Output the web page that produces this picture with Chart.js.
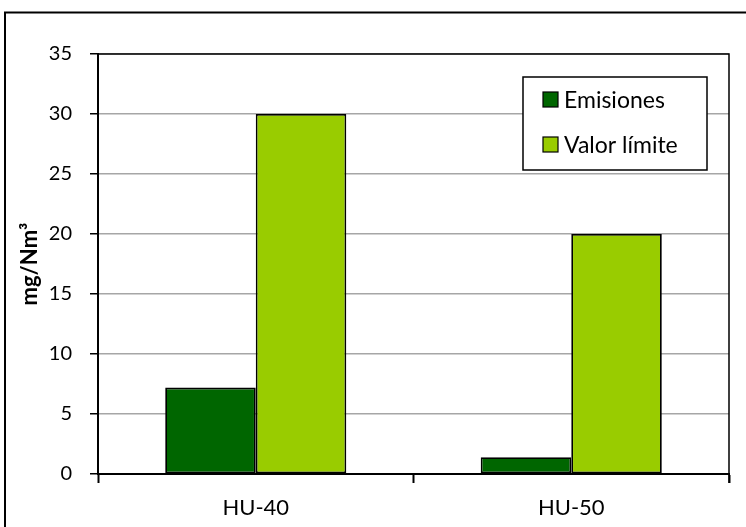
<!DOCTYPE html>
<html>
<head>
<meta charset="utf-8">
<script src="https://cdn.jsdelivr.net/npm/chart.js@4/dist/chart.umd.min.js"></script>
<style>
  html, body { margin: 0; padding: 0; background: #fff; }
  #wrap { width: 746px; height: 527px; }
</style>
</head>
<body>
<div id="wrap"><canvas id="chart" width="746" height="527"></canvas></div>
<script>
const categories = ['HU-40', 'HU-50'];
const emisiones = [7.2, 1.4];
const valorLimite = [30, 20];
const yTicks = [0, 5, 10, 15, 20, 25, 30, 35];

const FONT = 'Lato, "Liberation Sans", sans-serif';

// marco exterior, borde del area de trazado y leyenda
const framePlugin = {
  id: 'frame',
  beforeDraw(chart) {
    const ctx = chart.ctx;
    ctx.save();
    ctx.fillStyle = '#fff';
    ctx.fillRect(0, 0, chart.width, chart.height);
    ctx.strokeStyle = '#000';
    ctx.lineWidth = 2;
    ctx.strokeRect(5, 12.5, chart.width + 20, chart.height + 20);
    ctx.restore();
  },
  afterDatasetsDraw(chart) {
    const ctx = chart.ctx;
    const a = chart.chartArea;
    ctx.save();
    ctx.strokeStyle = '#000';
    ctx.lineWidth = 1.5;
    ctx.beginPath();
    ctx.moveTo(a.left, a.top);
    ctx.lineTo(a.right, a.top);
    ctx.lineTo(a.right, a.bottom + 9);
    ctx.stroke();

    // leyenda
    const bx = 523, by = 77, bw = 184, bh = 93;
    ctx.fillStyle = '#fff';
    ctx.fillRect(bx, by, bw, bh);
    ctx.lineWidth = 1.5;
    ctx.strokeRect(bx, by, bw, bh);
    ctx.font = '23px ' + FONT;
    ctx.textBaseline = 'middle';
    chart.data.datasets.forEach((ds, i) => {
      const cy = 100 + i * 45;
      ctx.fillStyle = ds.backgroundColor;
      ctx.fillRect(543, cy - 8, 15, 15);
      ctx.lineWidth = 1.2;
      ctx.strokeStyle = '#000';
      ctx.strokeRect(543, cy - 8, 15, 15);
      ctx.fillStyle = '#000';
      ctx.fillText(ds.label, 564, cy + 1);
    });
    ctx.restore();
  }
};

new Chart(document.getElementById('chart'), {
  type: 'bar',
  data: {
    labels: categories,
    datasets: [
      {
        label: 'Emisiones',
        data: emisiones,
        backgroundColor: '#006600',
        borderColor: '#000',
        borderWidth: 1.8,
        borderSkipped: false,
        categoryPercentage: 0.574,
        barPercentage: 1
      },
      {
        label: 'Valor límite',
        data: valorLimite,
        backgroundColor: '#99CC00',
        borderColor: '#000',
        borderWidth: 1.8,
        borderSkipped: false,
        categoryPercentage: 0.574,
        barPercentage: 1
      }
    ]
  },
  options: {
    responsive: false,
    animation: false,
    devicePixelRatio: 1,
    layout: { padding: { left: 0, top: 54, right: 17, bottom: 0 } },
    plugins: {
      legend: { display: false },
      tooltip: { enabled: false }
    },
    scales: {
      x: {
        offset: true,
        grid: {
          offset: true,
          drawOnChartArea: false,
          tickLength: 9,
          tickColor: '#000',
          tickWidth: 2
        },
        border: { color: '#000', width: 2 },
        ticks: {
          color: '#000',
          padding: 12,
          font: { family: FONT, size: 22 }
        },
        afterFit(scale) { scale.height = 53; }
      },
      y: {
        min: 0,
        max: 35,
        afterBuildTicks(scale) {
          scale.ticks = yTicks.map(v => ({ value: v }));
        },
        grid: {
          color: '#a6a6a6',
          lineWidth: 1.5,
          tickLength: 8,
          tickColor: '#000',
          tickWidth: 1.5
        },
        border: { color: '#000', width: 2 },
        ticks: {
          color: '#000',
          padding: 18,
          font: { family: FONT, size: 20 }
        },
        title: {
          display: true,
          text: 'mg/Nm³',
          color: '#000',
          padding: { top: 17, bottom: 0 },
          font: { family: FONT, size: 22, weight: 'bold' }
        },
        afterFit(scale) { scale.width = 98; }
      }
    }
  },
  plugins: [framePlugin]
});
</script>
</body>
</html>
